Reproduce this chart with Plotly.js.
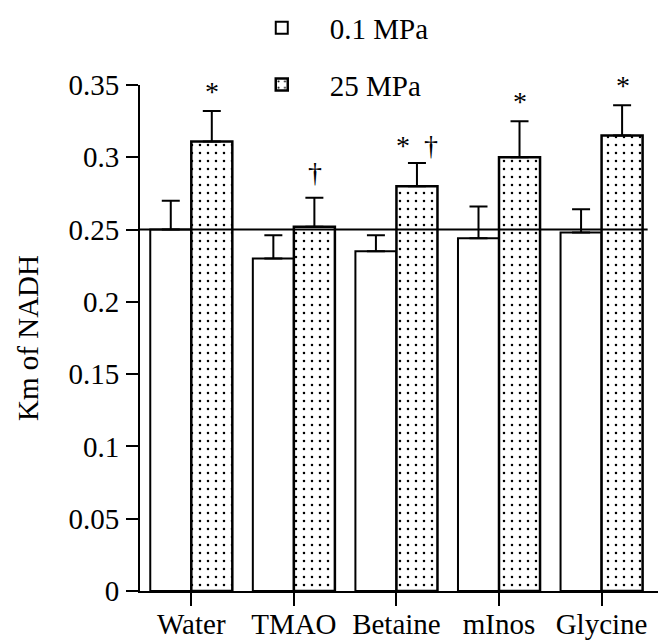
<!DOCTYPE html>
<html>
<head>
<meta charset="utf-8">
<script src="https://cdn.plot.ly/plotly-3.0.1.min.js"></script>
<style>html,body{margin:0;padding:0;background:#fff;}#chart{width:660px;height:644px;}</style>
</head>
<body>
<div id="chart"></div>
<script>
// ---- data ----
const categories = ['Water', 'TMAO', 'Betaine', 'mInos', 'Glycine'];
const seriesNames = ['0.1 MPa', '25 MPa'];
const km01 = [0.250, 0.230, 0.235, 0.244, 0.248];
const km01Err = [0.020, 0.016, 0.011, 0.022, 0.016];
const km25 = [0.311, 0.252, 0.280, 0.300, 0.315];
const km25Err = [0.021, 0.020, 0.016, 0.025, 0.021];
const sig25 = ['*', '\u2020', '*  \u2020', '*', '*'];
const yTicks = [0, 0.05, 0.1, 0.15, 0.2, 0.25, 0.3, 0.35];
const refLevel = 0.25;

// ---- styles ----
const FONT = '"Liberation Serif", "Times New Roman", Times, serif';
const zeros = categories.map(() => 0);

const trace01 = {
  type: 'bar', name: seriesNames[0], x: categories, y: km01,
  legendgroup: 'a',
  marker: {color: '#ffffff', line: {color: '#000', width: 2}},
  error_y: {type: 'data', symmetric: false, array: km01Err, arrayminus: zeros,
            color: '#000', thickness: 2, width: 9}
};
const trace25 = {
  type: 'bar', name: seriesNames[1], x: categories, y: km25,
  legendgroup: 'b',
  marker: {color: '#ffffff', line: {color: '#000', width: 2.5},
           pattern: {shape: '.', size: 8, solidity: 0.08, fgcolor: '#000', bgcolor: '#ffffff', fillmode: 'replace'}},
  error_y: {type: 'data', symmetric: false, array: km25Err, arrayminus: zeros,
            color: '#000', thickness: 2, width: 9}
};

const annShift = [2, 8, 0, 2, 2];
const annotations = categories.map((c, i) => ({
  x: c, y: km25[i] + km25Err[i], xref: 'x', yref: 'y',
  text: sig25[i], showarrow: false, xshift: 21, yshift: annShift[i],
  yanchor: 'bottom', font: {family: FONT, size: 28, color: '#000'}
}));

const layout = {
  width: 660, height: 644,
  margin: {l: 140, r: 2, t: 83, b: 53},
  paper_bgcolor: '#fff', plot_bgcolor: '#fff',
  barmode: 'group', bargap: 0.2, bargroupgap: 0,
  font: {family: FONT, size: 29, color: '#000'},
  showlegend: true,
  legend: {x: 0.181, y: 1.163, xanchor: 'left', yanchor: 'top',
           font: {family: FONT, size: 29, color: '#000'},
           itemwidth: 86, tracegroupgap: 16, traceorder: 'grouped',
           bgcolor: 'rgba(0,0,0,0)'},
  xaxis: {type: 'category', range: [-0.5, 4.55],
          showline: true, linecolor: '#000', linewidth: 2,
          ticks: 'outside', ticklen: 13, tickwidth: 2, tickcolor: '#000',
          ticklabelstandoff: -7,
          showgrid: false, zeroline: false, fixedrange: true,
          tickfont: {family: FONT, size: 29, color: '#000'}},
  yaxis: {range: [0, 0.35], tickvals: yTicks,
          showline: true, linecolor: '#000', linewidth: 2,
          ticks: 'outside', ticklen: 12, tickwidth: 2, tickcolor: '#000',
          ticklabelstandoff: 1,
          showgrid: false, zeroline: false, fixedrange: true,
          tickfont: {family: FONT, size: 29, color: '#000'},
          title: {text: 'Km of NADH', font: {family: FONT, size: 29, color: '#000'}, standoff: 21}},
  shapes: [{type: 'line', xref: 'paper', yref: 'y', x0: 0, x1: 0.98, y0: refLevel, y1: refLevel,
            line: {color: '#000', width: 2}}],
  annotations: annotations
};

Plotly.newPlot('chart', [trace01, trace25], layout, {displayModeBar: false, staticPlot: true});
</script>
</body>
</html>
